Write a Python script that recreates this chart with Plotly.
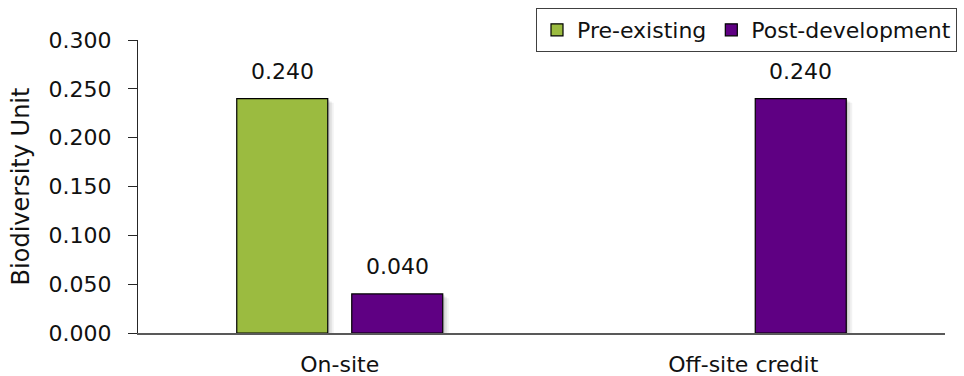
import plotly.graph_objects as go

# ---- data ----
categories = ["On-site", "Off-site credit"]
pre_existing = [0.240, None]
post_development = [0.040, 0.240]
y_ticks = [0.0, 0.05, 0.10, 0.15, 0.20, 0.25, 0.30]
y_tick_labels = ["0.000", "0.050", "0.100", "0.150", "0.200", "0.250", "0.300"]

# ---- styles ----
GREEN = "#9BBB40"
PURPLE = "#5F0083"
FONT = "DejaVu Sans"
FS = 22
TEXT = "#111111"
W, H = 964, 376
ML, MR, MT, MB = 138, 19, 40, 43
plot_w = W - ML - MR
plot_h = H - MT - MB
PX_PER_CAT = plot_w / len(categories)
BAR_W_PX = 91
GREEN_LEFT_PX = -103
PURPLE_LEFT_PX = 12
u = lambda px: px / PX_PER_CAT
px_per_y = plot_h / 0.3

fig = go.Figure()

series = [("Pre-existing", pre_existing, GREEN, GREEN_LEFT_PX),
          ("Post-development", post_development, PURPLE, PURPLE_LEFT_PX)]

# soft drop shadows
for name, vals, col, left in series:
    for dx, a in [(6, 0.05), (4, 0.07), (2, 0.09)]:
        fig.add_trace(go.Bar(
            x=categories, y=vals, base=-dx * 0.7 / px_per_y,
            width=u(BAR_W_PX), offset=u(left + dx),
            marker=dict(color=f"rgba(0,0,0,{a})", line=dict(width=0)),
            showlegend=False, hoverinfo="skip"))

for name, vals, col, left in series:
    fig.add_trace(go.Bar(
        name=name, x=categories, y=vals,
        width=u(BAR_W_PX), offset=u(left),
        marker=dict(color=col, line=dict(color="#000000", width=1.2))))
    for c, v in zip(categories, vals):
        if v is None:
            continue
        fig.add_annotation(
            x=c, y=v, text=f"{v:.3f}", showarrow=False,
            xshift=left + BAR_W_PX / 2, yshift=13, yanchor="bottom",
            font=dict(family=FONT, size=FS, color=TEXT))

fig.update_layout(
    width=W, height=H,
    margin=dict(l=ML, r=MR, t=MT, b=MB, autoexpand=False),
    barmode="overlay",
    paper_bgcolor="white", plot_bgcolor="white",
    font=dict(family=FONT, size=FS, color=TEXT),
    showlegend=True,
    legend=dict(orientation="h", x=(536 - ML) / plot_w, xanchor="left",
                y=1 + (MT - 8) / plot_h, yanchor="top",
                bordercolor="#404040", borderwidth=1, bgcolor="white",
                font=dict(family=FONT, size=FS, color=TEXT),
                itemwidth=30, traceorder="normal"),
    xaxis=dict(type="category", range=[-0.5, 1.5], showgrid=False,
               showline=True, linecolor="#595959", linewidth=2,
               ticks="", ticklabelstandoff=11, zeroline=False,
               automargin=False),
    yaxis=dict(range=[0, 0.3], tickvals=y_ticks, ticktext=y_tick_labels,
               showgrid=False, showline=True, linecolor="#262626", linewidth=1,
               ticks="outside", ticklen=9, tickcolor="#262626",
               ticklabelstandoff=12, zeroline=False, automargin=False,
               title=dict(text="Biodiversity Unit", standoff=12,
                          font=dict(family=FONT, size=24, color=TEXT))),
)

fig.write_html("out.html")
